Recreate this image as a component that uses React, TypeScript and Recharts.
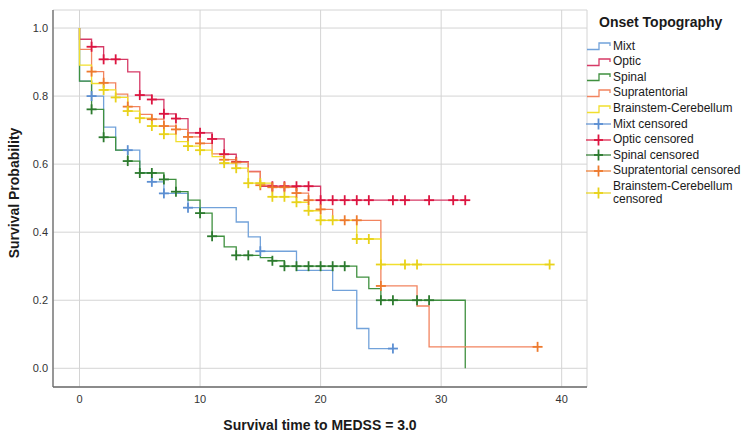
import { ComposedChart, Line, Scatter, XAxis, YAxis, CartesianGrid } from 'recharts';

const FONT = '"Liberation Sans", Arial, sans-serif';

// Kaplan-Meier steps: event times and survival after each step
const mixtTimes = [0, 0, 1, 2, 3, 5, 6, 7, 9, 13, 14, 15, 18, 21, 23, 24, 26];
const mixtSurv = [1, 0.844, 0.8, 0.709, 0.641, 0.575, 0.548, 0.514, 0.472, 0.43, 0.386, 0.344, 0.288, 0.229, 0.117, 0.058, 0.058];
const mixtCensT = [1, 4, 6, 7, 9, 15, 26];
const mixtCensS = [0.8, 0.641, 0.548, 0.514, 0.472, 0.344, 0.058];

const opticTimes = [0, 0, 1, 2, 4, 5, 6, 7, 8, 9, 11, 12, 13, 14, 15, 20, 32];
const opticSurv = [1, 0.967, 0.945, 0.908, 0.871, 0.803, 0.79, 0.748, 0.734, 0.692, 0.674, 0.629, 0.607, 0.579, 0.535, 0.494, 0.494];
const opticCensT = [1, 2, 3, 5, 6, 7, 8, 10, 11, 12, 13, 16, 17, 18, 19, 20, 21, 22, 23, 24, 26, 27, 29, 31, 32];
const opticCensS = [0.945, 0.908, 0.908, 0.803, 0.79, 0.748, 0.734, 0.692, 0.674, 0.629, 0.607, 0.535, 0.535, 0.535, 0.535, 0.494, 0.494, 0.494, 0.494, 0.494, 0.494, 0.494, 0.494, 0.494, 0.494];

const spinalTimes = [0, 0, 1, 2, 3, 4, 5, 7, 8, 9, 10, 11, 12, 13, 15, 16, 17, 23, 24, 25, 32];
const spinalSurv = [1, 0.844, 0.761, 0.679, 0.641, 0.609, 0.574, 0.555, 0.519, 0.494, 0.456, 0.388, 0.357, 0.332, 0.325, 0.316, 0.3, 0.268, 0.234, 0.2, 0];
const spinalCensT = [1, 2, 4, 5, 6, 7, 8, 10, 11, 13, 14, 16, 17, 18, 19, 20, 21, 22, 25, 26, 28, 29];
const spinalCensS = [0.761, 0.679, 0.609, 0.574, 0.574, 0.555, 0.519, 0.456, 0.388, 0.332, 0.332, 0.316, 0.3, 0.3, 0.3, 0.3, 0.3, 0.3, 0.2, 0.2, 0.2, 0.2];

const supraTimes = [0, 0, 1, 2, 3, 4, 5, 6, 7, 8, 9, 10, 11, 12, 13, 14, 15, 16, 18, 19, 20, 21, 25, 28, 29, 38];
const supraSurv = [1, 0.937, 0.872, 0.839, 0.806, 0.769, 0.746, 0.732, 0.712, 0.702, 0.68, 0.661, 0.63, 0.613, 0.605, 0.577, 0.538, 0.532, 0.515, 0.494, 0.467, 0.435, 0.242, 0.183, 0.063, 0.063];
const supraCensT = [1, 2, 4, 6, 7, 8, 9, 10, 12, 13, 15, 16, 17, 18, 19, 20, 22, 23, 25, 38];
const supraCensS = [0.872, 0.839, 0.769, 0.732, 0.712, 0.702, 0.68, 0.661, 0.613, 0.605, 0.538, 0.532, 0.532, 0.515, 0.494, 0.467, 0.435, 0.435, 0.242, 0.063];

const brainTimes = [0, 0, 1, 2, 3, 4, 5, 6, 7, 8, 9, 10, 11, 12, 13, 14, 16, 18, 19, 20, 23, 25, 39];
const brainSurv = [1, 0.891, 0.837, 0.818, 0.796, 0.756, 0.735, 0.712, 0.688, 0.666, 0.653, 0.641, 0.622, 0.603, 0.588, 0.544, 0.504, 0.488, 0.463, 0.435, 0.38, 0.305, 0.305];
const brainCensT = [2, 3, 4, 5, 6, 7, 9, 10, 12, 13, 14, 15, 16, 17, 18, 19, 20, 21, 23, 24, 25, 27, 28, 39];
const brainCensS = [0.818, 0.796, 0.756, 0.735, 0.712, 0.688, 0.653, 0.641, 0.603, 0.588, 0.544, 0.544, 0.504, 0.504, 0.488, 0.463, 0.435, 0.435, 0.38, 0.38, 0.305, 0.305, 0.305, 0.305];

const xTicks = [0, 10, 20, 30, 40];
const yTicks = [0, 0.2, 0.4, 0.6, 0.8, 1.0];

const toPoints = (ts: number[], ss: number[]) => ts.map((t, i) => ({ t, s: ss[i] }));

const GROUPS = [
  { name: 'Mixt', line: '#72A2DA', mark: '#5C8FD2', steps: toPoints(mixtTimes, mixtSurv), cens: toPoints(mixtCensT, mixtCensS) },
  { name: 'Optic', line: '#D63A66', mark: '#DC1540', steps: toPoints(opticTimes, opticSurv), cens: toPoints(opticCensT, opticCensS) },
  { name: 'Spinal', line: '#3F903F', mark: '#2C7A2E', steps: toPoints(spinalTimes, spinalSurv), cens: toPoints(spinalCensT, spinalCensS) },
  { name: 'Supratentorial', line: '#F2845F', mark: '#EE7A2E', steps: toPoints(supraTimes, supraSurv), cens: toPoints(supraCensT, supraCensS) },
  { name: 'Brainstem-Cerebellum', line: '#F1DF2E', mark: '#E8D21A', steps: toPoints(brainTimes, brainSurv), cens: toPoints(brainCensT, brainCensS) },
];

const plusShape = (color: string) => (props: any) => {
  const { cx, cy } = props;
  if (cx == null || cy == null) return <g />;
  return (
    <g stroke={color} strokeWidth={1.8}>
      <line x1={cx - 5} y1={cy} x2={cx + 5} y2={cy} />
      <line x1={cx} y1={cy - 5} x2={cx} y2={cy + 5} />
    </g>
  );
};

function StepIcon({ color }: { color: string }) {
  return (
    <svg width={26} height={12} style={{ display: 'block' }}>
      <path d="M1,9.5 H13 V3 H24 V6" fill="none" stroke={color} strokeWidth={1.3} />
    </svg>
  );
}

function CensIcon({ color }: { color: string }) {
  return (
    <svg width={26} height={12} style={{ display: 'block' }}>
      <line x1={0} y1={6} x2={25} y2={6} stroke={color} strokeWidth={1.2} />
      <line x1={12.5} y1={0.5} x2={12.5} y2={11.5} stroke={color} strokeWidth={1.8} />
      <line x1={8} y1={6} x2={17} y2={6} stroke={color} strokeWidth={1.8} />
    </svg>
  );
}

function ChartLegend() {
  const rows: { label: string[]; color: string; cens: boolean }[] = [
    ...GROUPS.map((g) => ({ label: [g.name], color: g.line, cens: false })),
    ...GROUPS.map((g) => ({
      label: g.name === 'Brainstem-Cerebellum' ? [g.name, 'censored'] : [g.name + ' censored'],
      color: g.mark,
      cens: true,
    })),
  ];
  let y = 46.5;
  return (
    <div style={{ position: 'absolute', left: 0, top: 0, fontFamily: FONT, color: '#1a1a1a' }}>
      <div style={{ position: 'absolute', left: 599, top: 14, fontSize: 14, fontWeight: 'bold', whiteSpace: 'nowrap' }}>
        Onset Topography
      </div>
      {rows.map((r) => {
        const h = r.label.length * 13.6;
        const top = y - 7;
        y += r.label.length * 15.6 - (r.label.length - 1) * 2;
        return (
          <div key={r.label.join(' ')} style={{ position: 'absolute', left: 586, top, height: h, display: 'flex', alignItems: 'center' }}>
            {r.cens ? <CensIcon color={r.color} /> : <StepIcon color={r.color} />}
            <div style={{ marginLeft: 1, fontSize: 12, lineHeight: '13.6px', whiteSpace: 'nowrap' }}>
              {r.label.map((l) => (
                <div key={l}>{l}</div>
              ))}
            </div>
          </div>
        );
      })}
    </div>
  );
}

export default function App() {
  return (
    <div style={{ position: 'absolute', left: 0, top: 0, width: 747, height: 437, background: '#fff' }}>
      <ComposedChart width={747} height={437} margin={{ top: 10, right: 160, bottom: 0, left: 0 }}>
        <CartesianGrid stroke="#d4d4d4" strokeWidth={1} />
        <XAxis
          type="number"
          dataKey="t"
          domain={[-2.2, 42.1]}
          ticks={xTicks}
          allowDataOverflow
          height={50}
          tickLine={false}
          tickSize={6}
          tickMargin={2}
          axisLine={{ stroke: '#6b6b6b', strokeWidth: 1.3 }}
          tick={{ fontSize: 11, fill: '#333', fontFamily: FONT }}
          label={{
            content: ({ viewBox }: any) => (
              <text
                x={viewBox.x + viewBox.width / 2}
                y={425}
                textAnchor="middle"
                dominantBaseline="central"
                fontFamily={FONT}
                fontSize={14}
                fontWeight="bold"
                fill="#1a1a1a"
              >
                Survival time to MEDSS = 3.0
              </text>
            ),
          }}
        />
        <YAxis
          type="number"
          dataKey="s"
          domain={[-0.055, 1.053]}
          ticks={yTicks}
          allowDataOverflow
          width={53}
          tickLine={false}
          tickSize={3}
          tickMargin={2}
          tickFormatter={(v: number) => v.toFixed(1)}
          axisLine={{ stroke: '#6b6b6b', strokeWidth: 1.3 }}
          tick={{ fontSize: 11, fill: '#333', fontFamily: FONT }}
          label={{
            content: () => (
              <text
                x={14}
                y={193}
                transform="rotate(-90 14 193)"
                textAnchor="middle"
                dominantBaseline="central"
                fontFamily={FONT}
                fontSize={14}
                fontWeight="bold"
                fill="#1a1a1a"
              >
                Survival Probability
              </text>
            ),
          }}
        />
        {GROUPS.map((g) => (
          <Line
            key={g.name}
            data={g.steps}
            dataKey="s"
            type="stepAfter"
            stroke={g.line}
            strokeWidth={1.3}
            dot={false}
            activeDot={false}
            isAnimationActive={false}
          />
        ))}
        {GROUPS.map((g) => (
          <Scatter
            key={g.name + '-c'}
            data={g.cens}
            dataKey="s"
            shape={plusShape(g.mark)}
            isAnimationActive={false}
          />
        ))}
      </ComposedChart>
      <ChartLegend />
    </div>
  );
}
